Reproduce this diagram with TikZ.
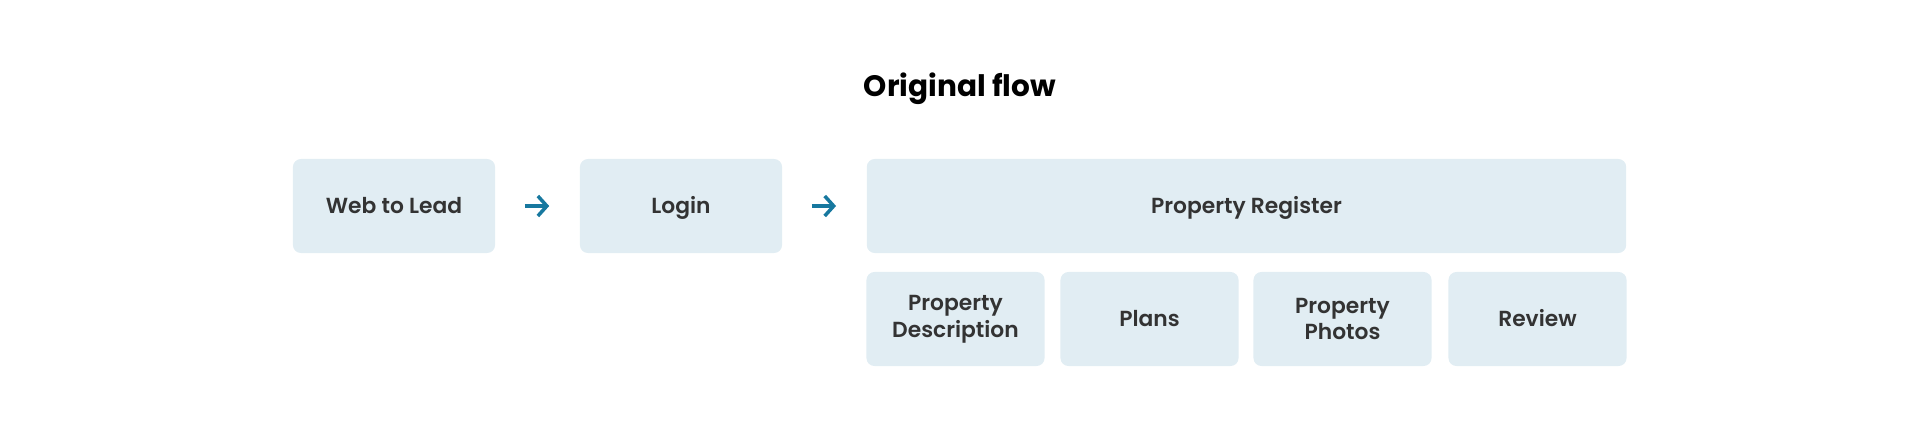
\documentclass[tikz,border=0pt]{standalone}
\usepackage{fontspec}
\setmainfont{Poppins}
\newfontfamily\labelfont{Poppins SemiBold}
\usetikzlibrary{arrows.meta}
\definecolor{boxblue}{HTML}{E1EDF3}
\definecolor{arrowblue}{HTML}{17789F}
\definecolor{textgray}{HTML}{333333}

\tikzset{
	stagebox/.style={rectangle, rounded corners=0.08cm, fill=boxblue, text=textgray, align=center,
		minimum width=2.02cm, minimum height=0.94cm, inner sep=0pt, font=\labelfont\fontsize{6.2}{7.6}\selectfont},
	onerow/.style={text height=4.3pt, text depth=0pt},
	subbox/.style={stagebox, minimum width=1.78cm},
	flowarrow/.style={-{Straight Barb[length=0.09cm, width=0.2cm]}, arrowblue, line width=0.035cm, shorten <=0.29cm, shorten >=0.3cm}
}

\begin{document}
\begin{tikzpicture}[x=0.01cm, y=0.01cm]
	\useasboundingbox (0,0) rectangle (1920,426);
	\node[font=\bfseries\fontsize{8.4}{10}\selectfont, text=black, text height=5.9pt, text depth=0pt] (title) at (960, 340) {Original flow};

	\node[stagebox, onerow] (web) at (394, 220) {Web to Lead};
	\node[stagebox, onerow] (login) at (681, 220) {Login};
	\node[stagebox, onerow, minimum width=7.59cm] (reg) at (1246.5, 220) {Property Register};

	\node[subbox] (desc) at (955.5, 107) {Property\\Description};
	\node[subbox, onerow] (plans) at (1149.5, 107) {Plans};
	\node[subbox] (photos) at (1342.5, 107) {Property\\Photos};
	\node[subbox, onerow] (review) at (1537.5, 107) {Review};

	\draw[flowarrow] (web) -- (login);
	\draw[flowarrow] (login) -- (reg);
\end{tikzpicture}
\end{document}
